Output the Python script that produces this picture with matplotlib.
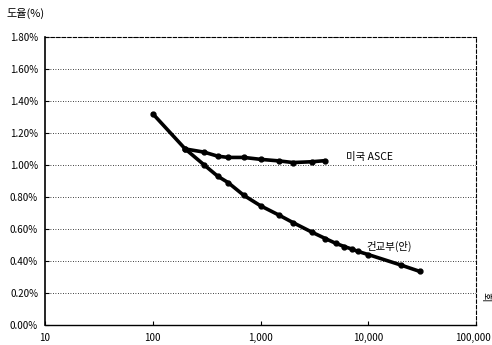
import matplotlib
matplotlib.use("Agg")
import matplotlib.pyplot as plt
from matplotlib.ticker import FixedLocator, NullLocator

plt.rcParams['font.family'] = ['Noto Sans CJK KR', 'DejaVu Sans']

# 건교부(안)
moct_x = [100, 200, 300, 400, 500, 700, 1000, 1500, 2000, 3000, 4000, 5000, 6000, 7000, 8000, 10000, 20000, 30000]
moct_y = [1.32, 1.10, 1.00, 0.93, 0.89, 0.81, 0.745, 0.685, 0.64, 0.58, 0.54, 0.51, 0.49, 0.475, 0.46, 0.44, 0.375, 0.335]
# 미국 ASCE
asce_x = [200, 300, 400, 500, 700, 1000, 1500, 2000, 3000, 4000]
asce_y = [1.10, 1.08, 1.055, 1.047, 1.047, 1.035, 1.025, 1.015, 1.02, 1.027]

yticks = [0.0, 0.2, 0.4, 0.6, 0.8, 1.0, 1.2, 1.4, 1.6, 1.8]
ytick_labels = ["0.00%", "0.20%", "0.40%", "0.60%", "0.80%", "1.00%", "1.20%", "1.40%", "1.60%", "1.80%"]
xticks = [10, 100, 1000, 10000, 100000]
xtick_labels = ["10", "100", "1,000", "10,000", "100,000"]

fig = plt.figure(figsize=(4.92, 3.45), dpi=100)
ax = fig.add_axes([0.0915, 0.058, 0.876, 0.835])

ax.plot(moct_x, moct_y, color='black', lw=2.6, marker='o', ms=3.5, solid_capstyle='round')
ax.plot(asce_x, asce_y, color='black', lw=2.6, marker='o', ms=3.5, solid_capstyle='round')

ax.set_xscale('log')
ax.set_xlim(10, 100000)
ax.set_ylim(0, 1.8)
ax.xaxis.set_major_locator(FixedLocator(xticks))
ax.xaxis.set_minor_locator(NullLocator())
# last label drawn separately so it stays inside the canvas
ax.set_xticklabels(xtick_labels[:-1] + [""])
ax.set_yticks(yticks)
ax.set_yticklabels(ytick_labels)
ax.tick_params(axis='both', labelsize=7, length=3, direction='in', pad=5, colors='black')
ax.tick_params(axis='x', pad=6)

xlab_y = ax.xaxis.get_ticklabels()[0]
fig.text(0.998, 0.021, xtick_labels[-1], fontsize=7, ha='right', va='center')

for y in yticks[1:]:
    ax.axhline(y, color='black', lw=0.6, ls=(0, (1, 2)), zorder=0)

ax.spines['left'].set_linewidth(1.2)
ax.spines['bottom'].set_linewidth(1.0)
ax.spines['top'].set_linestyle((0, (3, 2)))
ax.spines['top'].set_linewidth(0.8)
ax.spines['right'].set_linestyle((0, (3, 2)))
ax.spines['right'].set_linewidth(0.8)

ax.text(6200, 1.05, "미국 ASCE", fontsize=7.5, va='center', ha='left')
ax.text(9700, 0.49, "건교부(안)", fontsize=7.5, va='center', ha='left')

fig.text(0.014, 0.962, "도율(%)", fontsize=8, va='center', ha='left')
fig.text(0.986, 0.139, "회", fontsize=7.5, rotation=-90, va='center', ha='center')

fig.savefig("out.png", dpi=100)
